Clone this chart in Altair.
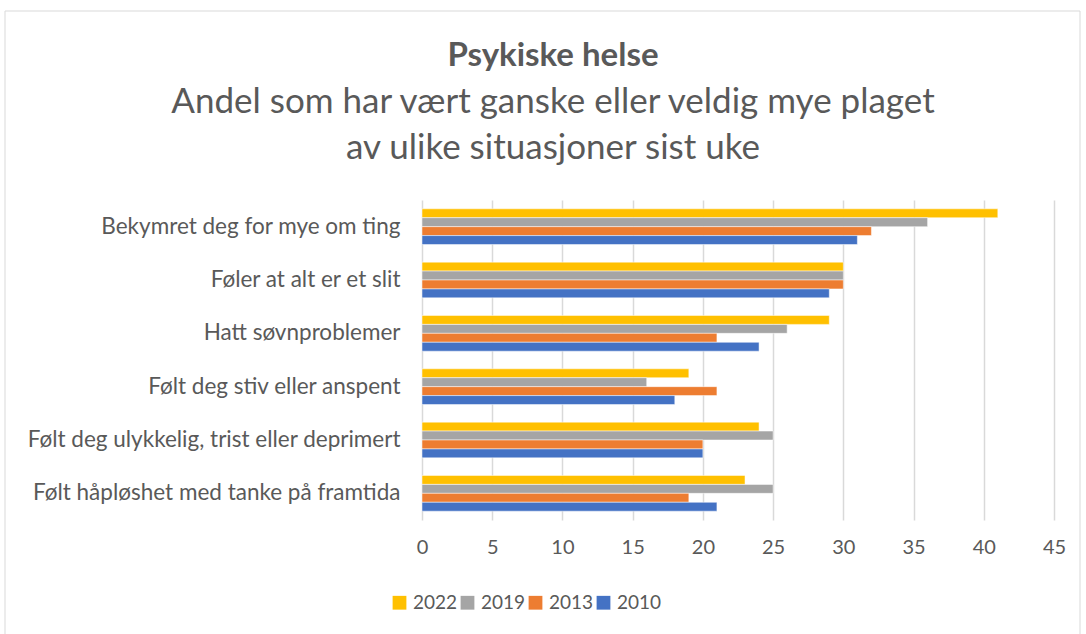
import altair as alt
import pandas as pd

categories = [
    "Bekymret deg for mye om ting",
    "Føler at alt er et slit",
    "Hatt søvnproblemer",
    "Følt deg stiv eller anspent",
    "Følt deg ulykkelig, trist eller deprimert",
    "Følt håpløshet med tanke på framtida",
]
years = ["2022", "2019", "2013", "2010"]
v2022 = [41, 30, 29, 19, 24, 23]
v2019 = [36, 30, 26, 16, 25, 25]
v2013 = [32, 30, 21, 21, 20, 19]
v2010 = [31, 29, 24, 18, 20, 21]
colors = ["#FFC000", "#A5A5A5", "#ED7D31", "#4472C4"]

rows = []
for yr, vals in zip(years, [v2022, v2019, v2013, v2010]):
    for c, v in zip(categories, vals):
        rows.append({"Kategori": c, "År": yr, "Verdi": v})
df = pd.DataFrame(rows)

FONT = "Lato"
GREY = "#595959"

bars = alt.Chart(df).mark_bar(stroke="white", strokeWidth=0.5).encode(
    x=alt.X("Verdi:Q", scale=alt.Scale(domain=[0, 45], nice=False),
            axis=alt.Axis(values=list(range(0, 50, 5)), title=None, domain=False, ticks=False,
                          labelFlush=False, labelPadding=17, labelFontSize=20, labelColor=GREY,
                          labelFont=FONT, gridColor="#D9D9D9", gridWidth=1.5)),
    y=alt.Y("Kategori:N", sort=categories,
            scale=alt.Scale(paddingInner=0.33, paddingOuter=0.165),
            axis=alt.Axis(title=None, domain=False, ticks=False, labelPadding=22,
                          labelFontSize=22.5, labelColor=GREY, labelFont=FONT, labelLimit=500)),
    yOffset=alt.YOffset("År:N", sort=years),
    color=alt.Color("År:N", sort=years,
                    scale=alt.Scale(domain=years, range=colors),
                    legend=alt.Legend(orient="none", legendX=-32, legendY=393, direction="horizontal",
                                      title=None, symbolType="square", symbolSize=190,
                                      symbolStrokeWidth=0, labelFontSize=19, labelColor=GREY,
                                      labelFont=FONT, columnPadding=-10, labelOffset=4)),
)

frame = alt.Chart(pd.DataFrame({"f": [0]})).mark_rect(
    fill=None, stroke="#D9D9D9", strokeWidth=1
).encode(
    x=alt.value(-417), x2=alt.value(658), y=alt.value(-189), y2=alt.value(445)
)

chart = alt.layer(frame, bars).properties(
    width=632,
    height=320,
    background="white",
    title=alt.TitleParams(
        text="Psykiske helse",
        subtitle=["Andel som har vært ganske eller veldig mye plaget", "av ulike situasjoner sist uke"],
        anchor="middle", dx=-185, offset=-155,
        font=FONT, fontSize=33, fontWeight="bold", color=GREY,
        subtitleFont=FONT, subtitleFontSize=35, subtitleColor=GREY, subtitleLineHeight=46,
        subtitlePadding=12,
    ),
    autosize=alt.AutoSizeParams(type="none"),
    padding={"left": 422, "top": 200, "right": 32, "bottom": 114},
).configure_view(stroke=None)

chart.save("out.html", embed_options={"renderer": "svg", "actions": False})
